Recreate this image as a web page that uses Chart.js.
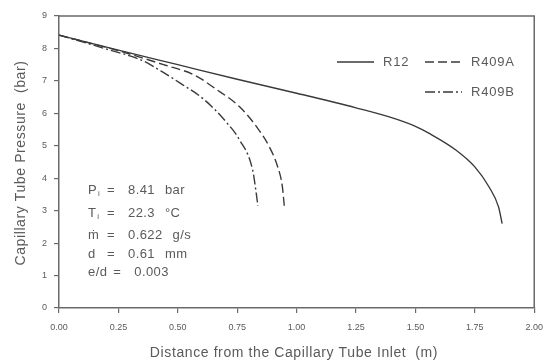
<!DOCTYPE html>
<html>
<head>
<meta charset="utf-8">
<script src="https://cdn.jsdelivr.net/npm/chart.js@4/dist/chart.umd.min.js"></script>
<style>
  html, body { margin: 0; padding: 0; background: #fff; }
  #wrap { width: 552px; height: 363px; }
</style>
</head>
<body>
<div id="wrap"><canvas id="pressureChart" width="552" height="363"></canvas></div>
<script>
// data
const seriesNames = ['R12', 'R409A', 'R409B'];
const r12X = [0, 0.25, 0.5, 0.75, 1.0, 1.25, 1.39, 1.5, 1.556, 1.67, 1.75, 1.81, 1.85, 1.865];
const r12Y = [8.41, 7.95, 7.5, 7.05, 6.62, 6.17, 5.89, 5.6, 5.39, 4.87, 4.35, 3.73, 3.11, 2.6];
const r409aX = [0, 0.25, 0.44, 0.57, 0.66, 0.76, 0.84, 0.885, 0.92, 0.94, 0.948];
const r409aY = [8.41, 7.93, 7.5, 7.18, 6.75, 6.2, 5.5, 4.97, 4.36, 3.74, 3.15];
const r409bX = [0, 0.2, 0.35, 0.43, 0.51, 0.61, 0.705, 0.76, 0.815, 0.83, 0.837];
const r409bY = [8.41, 7.98, 7.63, 7.3, 6.93, 6.43, 5.72, 5.18, 4.25, 3.54, 3.15];
const xTicks = [0, 0.25, 0.5, 0.75, 1.0, 1.25, 1.5, 1.75, 2.0];
const yTicks = [0, 1, 2, 3, 4, 5, 6, 7, 8, 9];
const conditions = [
  ['P', 'i', '=', '8.41', 'bar'],
  ['T', 'i', '=', '22.3', '°C'],
  ['ṁ', '', '=', '0.622', 'g/s'],
  ['d', '', '=', '0.61', 'mm'],
  ['e/d', '', '=', '0.003', '']
];

const ink = '#3a3a3a';
const axisInk = '#6a6a6a';
const textInk = '#5a5a5a';
const dashes = [[], [9, 4], [10, 3, 2, 3]];
const fontFam = '"Liberation Sans", Arial, sans-serif';

function toPoints(xs, ys) {
  return xs.map(function(x, i) { return { x: x, y: ys[i] }; });
}

// frame, legend, axis titles and the condition block
const decorPlugin = {
  id: 'decor',
  afterDraw: function(chart) {
    const ctx = chart.ctx;
    const a = chart.chartArea;
    ctx.save();
    ctx.strokeStyle = axisInk;
    ctx.lineWidth = 1.5;
    ctx.beginPath();
    ctx.moveTo(a.left, a.top);
    ctx.lineTo(a.right, a.top);
    ctx.lineTo(a.right, a.bottom);
    ctx.stroke();

    // legend
    ctx.font = '13px ' + fontFam;
    ctx.letterSpacing = '0.8px';
    ctx.fillStyle = textInk;
    ctx.textBaseline = 'middle';
    const spots = [[337, 62], [425, 62], [425, 92]];
    seriesNames.forEach(function(name, i) {
      const s = spots[i];
      ctx.strokeStyle = ink;
      ctx.lineWidth = 1.3;
      ctx.setLineDash(dashes[i]);
      ctx.beginPath();
      ctx.moveTo(s[0], s[1]);
      ctx.lineTo(s[0] + 37, s[1]);
      ctx.stroke();
      ctx.setLineDash([]);
      ctx.fillText(name, s[0] + 46, s[1]);
    });

    // axis titles
    ctx.font = '14px ' + fontFam;
    ctx.letterSpacing = '0.6px';
    ctx.textAlign = 'center';
    ctx.fillText('Distance from the Capillary Tube Inlet  (m)', 294, 353);
    ctx.save();
    ctx.translate(21, 163);
    ctx.rotate(-Math.PI / 2);
    ctx.fillText('Capillary Tube Pressure  (bar)', 0, 0);
    ctx.restore();

    // conditions
    ctx.textAlign = 'left';
    ctx.letterSpacing = '0.4px';
    const rows = [190, 213, 235, 254, 272];
    conditions.forEach(function(c, i) {
      const y = rows[i];
      ctx.font = '13px ' + fontFam;
      ctx.fillText(c[0], 88, y);
      const lw = ctx.measureText(c[0]).width;
      if (c[1]) {
        ctx.font = '8px ' + fontFam;
        ctx.fillText(c[1], 88 + lw + 1, y + 4);
        ctx.font = '13px ' + fontFam;
      }
      const eqX = Math.max(107, 88 + lw + 6);
      ctx.fillText(c[2], eqX, y);
      const valX = eqX + 21;
      ctx.fillText(c[3], valX, y);
      if (c[4]) {
        const vw = ctx.measureText(c[3]).width;
        ctx.fillText(c[4], valX + vw + 10, y);
      }
    });
    ctx.restore();
  }
};

document.addEventListener('DOMContentLoaded', function() {
  const el = document.getElementById('pressureChart');
  const allX = [r12X, r409aX, r409bX];
  const allY = [r12Y, r409aY, r409bY];
  new Chart(el, {
    type: 'line',
    data: {
      datasets: seriesNames.map(function(name, i) {
        return {
          label: name,
          data: toPoints(allX[i], allY[i]),
          borderColor: ink,
          borderWidth: 1.4,
          borderDash: dashes[i],
          pointRadius: 0,
          fill: false,
          cubicInterpolationMode: 'monotone'
        };
      })
    },
    options: {
      responsive: false,
      animation: false,
      layout: { padding: { left: 0, right: 16, top: 16, bottom: 0 } },
      plugins: { legend: { display: false }, tooltip: { enabled: false } },
      scales: {
        x: {
          type: 'linear',
          min: 0,
          max: 2,
          afterFit: function(s) { s.height = 55; },
          afterBuildTicks: function(s) { s.ticks = xTicks.map(function(v) { return { value: v }; }); },
          grid: { drawOnChartArea: false, drawTicks: true, tickLength: 5, color: axisInk, lineWidth: 1.2 },
          border: { display: true, color: axisInk, width: 1.5 },
          ticks: {
            color: textInk,
            padding: 9,
            font: { size: 9, family: fontFam },
            maxRotation: 0,
            callback: function(v) { return v.toFixed(2); }
          }
        },
        y: {
          min: 0,
          max: 9,
          afterFit: function(s) { s.width = 59; },
          afterBuildTicks: function(s) { s.ticks = yTicks.map(function(v) { return { value: v }; }); },
          grid: { drawOnChartArea: false, drawTicks: true, tickLength: 5, color: axisInk, lineWidth: 1.2 },
          border: { display: true, color: axisInk, width: 1.5 },
          ticks: {
            color: textInk,
            padding: 7,
            font: { size: 9, family: fontFam }
          }
        }
      }
    },
    plugins: [decorPlugin]
  });
});
</script>
</body>
</html>
